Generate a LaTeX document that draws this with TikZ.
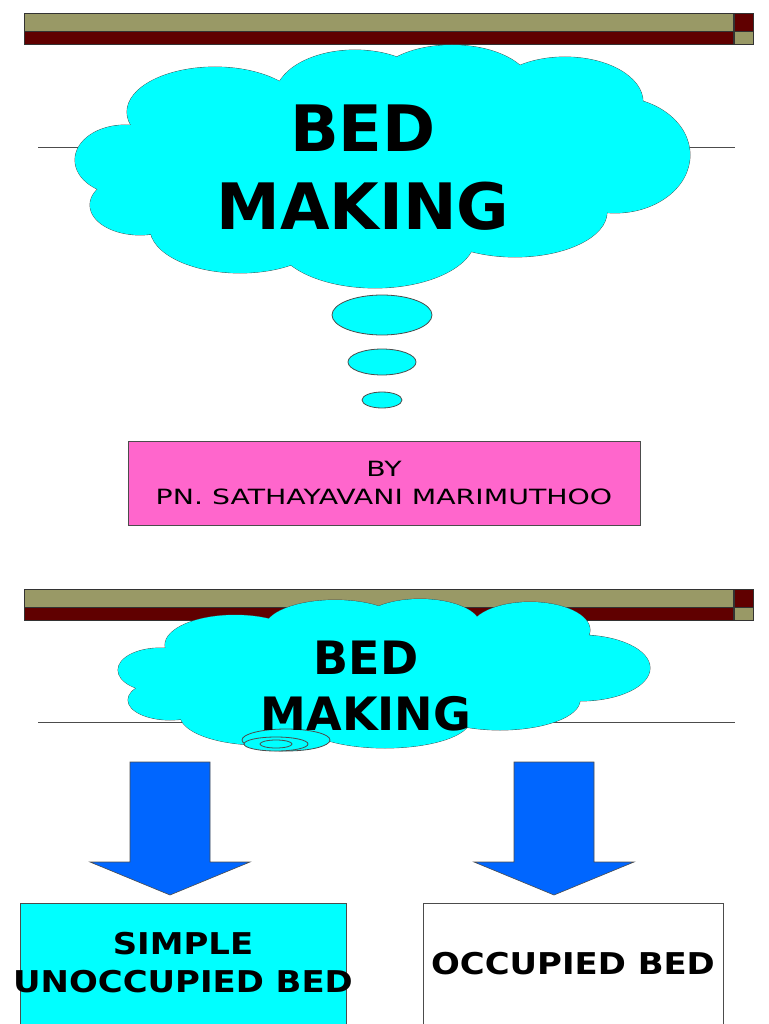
\documentclass[tikz,border=0pt]{standalone}
\usepackage{fontspec}
\setmainfont{DejaVu Sans}
\begin{document}
\begin{tikzpicture}[x=1pt,y=-1pt,
  bar1/.style={fill=olv,draw=black!80,line width=0.6},
  bar2/.style={fill=drd,draw=black!80,line width=0.6},
  cl/.style={fill=cyan,draw=black!70,line width=0.8},
  bigarrow/.style={fill=arrowblue,draw=black!70,line width=0.6}]
\definecolor{olv}{HTML}{999966}
\definecolor{drd}{HTML}{600000}
\definecolor{cyan}{HTML}{00FFFF}
\definecolor{pnk}{HTML}{FF66CC}
\definecolor{arrowblue}{HTML}{0066FF}
\useasboundingbox (0,0) rectangle (768,1024);
% bars
\foreach \y in {0,576}{
 \draw[bar1] (24,13+\y) rectangle (733,31+\y);
 \draw[bar2] (24,31+\y) rectangle (733,44+\y);
 \draw[bar2] (734,13+\y) rectangle (753,31+\y);
 \draw[bar1] (734,31+\y) rectangle (753,44+\y);
}
\draw[black!70] (38,147) -- (735,147);
\draw[black!70] (38,722) -- (735,722);
% cloud 1
\def\cloudA{(215,112) ellipse [x radius=88,y radius=45]
 (355,97) ellipse [x radius=80,y radius=47]
 (452,88) ellipse [x radius=80,y radius=43]
 (565,102) ellipse [x radius=78,y radius=45]
 (615,155) ellipse [x radius=75,y radius=58]
 (125,160) ellipse [x radius=50,y radius=35]
 (140,205) ellipse [x radius=50,y radius=30]
 (240,228) ellipse [x radius=90,y radius=45]
 (375,238) ellipse [x radius=100,y radius=50]
 (515,212) ellipse [x radius=92,y radius=45]
 (380,170) ellipse [x radius=250,y radius=80]}
\path[cl] \cloudA;
\path[fill=cyan] \cloudA;
\draw[cl] (382,315) ellipse [x radius=50,y radius=20];
\draw[cl] (382,362) ellipse [x radius=34,y radius=13];
\draw[cl] (382,400) ellipse [x radius=20,y radius=8];
\node[font=\bfseries\fontsize{64}{78}\selectfont,align=center] (t1) at (363,168) {BED\\MAKING};
% pink box
\node[draw=black!70,fill=pnk,minimum width=512,minimum height=84] (by) at (384,483) {};
\node[font=\fontsize{21}{28}\selectfont,align=center,xscale=1.35] (bytext) at (384,483) {BY\\PN. SATHAYAVANI MARIMUTHOO};
% cloud 2
\def\cloudB{(235,645) ellipse [x radius=70,y radius=30]
 (335,628) ellipse [x radius=70,y radius=28]
 (420,625) ellipse [x radius=60,y radius=26]
 (530,630) ellipse [x radius=60,y radius=28]
 (580,668) ellipse [x radius=70,y radius=33]
 (160,670) ellipse [x radius=42,y radius=22]
 (170,700) ellipse [x radius=42,y radius=20]
 (260,715) ellipse [x radius=80,y radius=30]
 (385,720) ellipse [x radius=85,y radius=28]
 (500,700) ellipse [x radius=80,y radius=30]
 (385,675) ellipse [x radius=220,y radius=50]}
\path[cl] \cloudB;
\path[fill=cyan] \cloudB;
\draw[cl] (286,740) ellipse [x radius=44,y radius=11];
\draw[cl] (276,744) ellipse [x radius=32,y radius=7];
\draw[cl] (276,744) ellipse [x radius=16,y radius=4];
\node[font=\bfseries\fontsize{46}{56}\selectfont,align=center] (t2) at (366,686) {BED\\MAKING};
% arrows
\coordinate (a1) at (170,895);
\coordinate (a2) at (554,895);
\draw[bigarrow] (130,762) -- (210,762) -- (210,862) -- (250,862) -- (a1) -- (90,862) -- (130,862) -- cycle;
\draw[bigarrow] (514,762) -- (594,762) -- (594,862) -- (634,862) -- (a2) -- (474,862) -- (514,862) -- cycle;
% boxes
\draw[black!70,fill=cyan] (20,903) rectangle (346,1030);
\node[font=\bfseries\fontsize{30}{38}\selectfont,align=center,xscale=1.13] (s) at (183,963) {SIMPLE\\UNOCCUPIED BED};
\draw[black!70,fill=white] (423,903) rectangle (723,1030);
\node[font=\bfseries\fontsize{30}{38}\selectfont,xscale=1.13] (o) at (573,964) {OCCUPIED BED};
\end{tikzpicture}
\end{document}
